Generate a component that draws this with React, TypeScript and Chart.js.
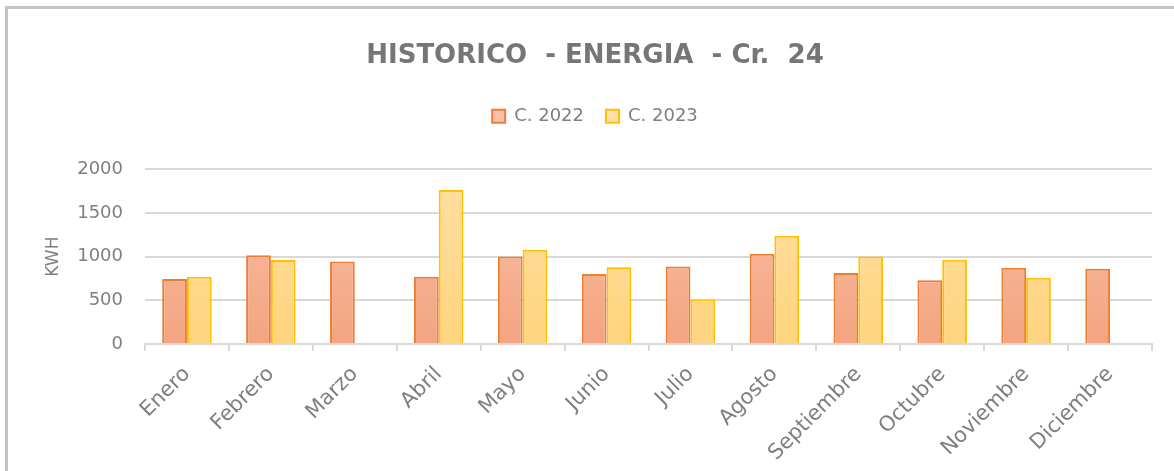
import React, { useEffect, useRef } from "react";
import { Chart, registerables } from "chart.js";

Chart.register(...registerables);

const months = [
  "Enero", "Febrero", "Marzo", "Abril", "Mayo", "Junio",
  "Julio", "Agosto", "Septiembre", "Octubre", "Noviembre", "Diciembre",
];
const consumo2022 = [745, 1015, 945, 770, 1000, 800, 888, 1033, 813, 728, 873, 862];
const consumo2023 = [770, 960, null, 1762, 1078, 877, 508, 1238, 1002, 965, 758, null];
const seriesNames = ["C. 2022", "C. 2023"];
const yTicks = [0, 500, 1000, 1500, 2000];

const FONT = "'DejaVu Sans', sans-serif";
const TEXT = "#7f7f7f";
const GRID = "#d9d9d9";

function gradientFill(top: string, bottom: string, flat: string) {
  return (ctx: any) => {
    if (ctx.type !== "data") return flat;
    const area = ctx.chart.chartArea;
    if (!area) return flat;
    const g = ctx.chart.ctx.createLinearGradient(0, area.top, 0, area.bottom);
    g.addColorStop(0, top);
    g.addColorStop(1, bottom);
    return g;
  };
}

const legendSpacer = {
  id: "legendSpacer",
  beforeInit(chart: any) {
    const legend = chart.legend;
    if (!legend) return;
    const orig = legend.fit;
    legend.fit = function () {
      orig.call(this);
      this.height += 34;
    };
  },
};

export default function App() {
  const ref = useRef<HTMLCanvasElement | null>(null);
  useEffect(() => {
    if (!ref.current) return;
    const chart = new Chart(ref.current, {
      type: "bar",
      data: {
        labels: months,
        datasets: [
          {
            label: seriesNames[0],
            data: consumo2022,
            backgroundColor: gradientFill("#F7C1A9", "#F4A47F", "#F4B296"),
            borderColor: "#ED7D31",
            borderWidth: 2,
            categoryPercentage: 0.59,
            barPercentage: 1,
          },
          {
            label: seriesNames[1],
            data: consumo2023,
            backgroundColor: gradientFill("#FFDFA3", "#FFD47E", "#FFD98E"),
            borderColor: "#FFC000",
            borderWidth: 2,
            categoryPercentage: 0.59,
            barPercentage: 1,
          },
        ],
      },
      options: {
        responsive: false,
        animation: false,
        layout: { padding: { top: 0, left: 38, right: 22, bottom: 0 } },
        plugins: {
          title: {
            display: true,
            text: "HISTORICO  - ENERGIA  - Cr.  24",
            color: "#767676",
            font: { family: FONT, size: 26, weight: "bold", lineHeight: 1.2 },
            padding: { top: 41, bottom: 13 },
          },
          legend: {
            display: true,
            position: "top",
            labels: {
              color: TEXT,
              font: { family: FONT, size: 18 },
              boxWidth: 13,
              boxHeight: 13,
              padding: 22,
            },
          },
          tooltip: { enabled: false },
        },
        scales: {
          x: {
            afterFit: (s: any) => { s.height = 127; },
            grid: {
              display: true,
              drawOnChartArea: false,
              drawTicks: true,
              tickLength: 7,
              color: GRID,
              lineWidth: 2,
              offset: true,
            },
            border: { display: true, color: GRID, width: 2 },
            ticks: {
              color: TEXT,
              font: { family: FONT, size: 21 },
              minRotation: 45,
              maxRotation: 45,
              autoSkip: false,
              padding: 11,
            },
          },
          y: {
            min: 0,
            max: 2000,
            afterFit: (s: any) => { s.width = 107; },
            afterBuildTicks: (s: any) => { s.ticks = yTicks.map((v) => ({ value: v })); },
            grid: { color: GRID, lineWidth: 2, drawTicks: false },
            border: { display: false },
            ticks: {
              color: TEXT,
              font: { family: FONT, size: 18 },
              padding: 22,
              callback: (v: any) => String(v),
            },
            title: {
              display: true,
              text: "KWH",
              color: TEXT,
              font: { family: FONT, size: 17, lineHeight: 1.2 },
              padding: { top: 5, bottom: 0 },
            },
          },
        },
      },
      plugins: [legendSpacer],
    });
    return () => chart.destroy();
  }, []);

  return (
    <div style={{ position: "fixed", left: 0, top: 0, width: 1174, height: 471, background: "#fff", overflow: "hidden" }}>
      <div
        style={{
          position: "absolute",
          left: 5,
          top: 6,
          width: 1200,
          height: 500,
          borderLeft: "3px solid #c4c4c4",
          borderTop: "3px solid #c4c4c4",
        }}
      />
      <canvas ref={ref} width={1174} height={471} style={{ position: "absolute", left: 0, top: 0 }} />
    </div>
  );
}
